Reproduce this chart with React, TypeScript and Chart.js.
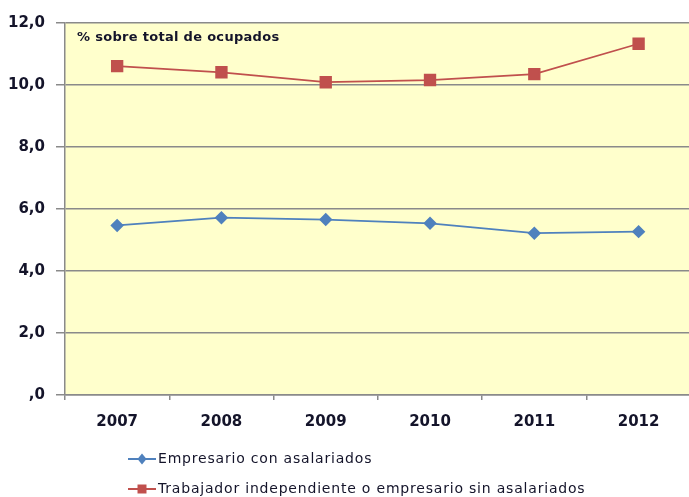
import React, { useEffect, useRef } from "react";
import { Chart, registerables } from "chart.js";

Chart.register(...registerables);

const years = ["2007", "2008", "2009", "2010", "2011", "2012"];
const empresarioConAsalariados = [5.47, 5.72, 5.66, 5.54, 5.22, 5.27];
const independienteSinAsalariados = [10.61, 10.41, 10.09, 10.16, 10.35, 11.33];
const seriesNames = [
  "Empresario con asalariados",
  "Trabajador independiente o empresario sin asalariados",
];
const annotationText = "% sobre total de ocupados";

const BLUE = "#4F81BD";
const RED = "#C0504D";
const GRID = "#8a8a8a";
const TEXT = "#14142a";

const plotBg = {
  id: "plotBg",
  beforeDraw(chart: any) {
    const { ctx, chartArea } = chart;
    ctx.save();
    ctx.fillStyle = "#FFFFCC";
    ctx.fillRect(chartArea.left, chartArea.top, chartArea.right - chartArea.left, chartArea.bottom - chartArea.top);
    ctx.restore();
  },
};

const annotation = {
  id: "annotation",
  afterDatasetsDraw(chart: any) {
    const { ctx, chartArea } = chart;
    ctx.save();
    ctx.font = "bold 13px 'DejaVu Sans'";
    (ctx as any).letterSpacing = "0.3px";
    ctx.fillStyle = TEXT;
    ctx.textBaseline = "middle";
    ctx.textAlign = "left";
    ctx.fillText(annotationText, chartArea.left + 12, chartArea.top + 15);
    ctx.restore();
  },
};

const customLegend = {
  id: "customLegend",
  afterDraw(chart: any) {
    const { ctx } = chart;
    const rows = [459, 489];
    chart.data.datasets.forEach((ds: any, i: number) => {
      const y = rows[i];
      ctx.save();
      ctx.strokeStyle = ds.borderColor;
      ctx.lineWidth = 2;
      ctx.beginPath();
      ctx.moveTo(128, y);
      ctx.lineTo(156, y);
      ctx.stroke();
      ctx.fillStyle = ds.pointBackgroundColor;
      ctx.beginPath();
      if (ds.pointStyle === "rect") {
        ctx.rect(142 - 4.5, y - 4.5, 9, 9);
      } else {
        ctx.moveTo(142, y - 5.5);
        ctx.lineTo(146.5, y);
        ctx.lineTo(142, y + 5.5);
        ctx.lineTo(137.5, y);
        ctx.closePath();
      }
      ctx.fill();
      ctx.font = "14px 'DejaVu Sans'";
      (ctx as any).letterSpacing = "0.8px";
      ctx.fillStyle = TEXT;
      ctx.textBaseline = "middle";
      ctx.textAlign = "left";
      ctx.fillText(ds.label, 158, y);
      ctx.restore();
    });
  },
};

export default function App() {
  const ref = useRef<HTMLCanvasElement>(null);
  useEffect(() => {
    if (!ref.current) return;
    const chart = new Chart(ref.current, {
      type: "line",
      data: {
        labels: years,
        datasets: [
          {
            label: seriesNames[0],
            data: empresarioConAsalariados,
            borderColor: BLUE,
            backgroundColor: BLUE,
            pointBackgroundColor: BLUE,
            pointBorderColor: BLUE,
            borderWidth: 1.75,
            pointStyle: "rectRot",
            pointRadius: 5.5,
            tension: 0,
          },
          {
            label: seriesNames[1],
            data: independienteSinAsalariados,
            borderColor: RED,
            backgroundColor: RED,
            pointBackgroundColor: RED,
            pointBorderColor: RED,
            borderWidth: 1.75,
            pointStyle: "rect",
            pointRadius: 7.5,
            tension: 0,
          },
        ],
      },
      options: {
        responsive: false,
        animation: false,
        layout: { padding: { top: 23, right: 4, bottom: 0, left: 0 } },
        plugins: {
          legend: { display: false },
          tooltip: { enabled: false },
        },
        scales: {
          x: {
            offset: true,
            grid: {
              offset: true,
              drawOnChartArea: false,
              drawTicks: true,
              tickLength: 5,
              color: GRID,
              lineWidth: 1.5,
            },
            border: { color: GRID, width: 1.5 },
            ticks: {
              color: TEXT,
              font: { family: "'DejaVu Sans'", weight: "bold", size: 15 },
              padding: 13,
            },
            afterFit(scale: any) {
              scale.height = 102;
            },
          },
          y: {
            min: 0,
            max: 12,
            ticks: {
              stepSize: 2,
              color: TEXT,
              padding: 11,
              font: { family: "'DejaVu Sans'", weight: "bold", size: 15 },
              callback: (v: any) => (v === 0 ? ",0" : Number(v).toFixed(1).replace(".", ",")),
            },
            grid: { color: GRID, lineWidth: 1.5, tickLength: 9 },
            border: { color: GRID, width: 1.5 },
            afterFit(scale: any) {
              scale.width = 65;
            },
          },
        },
      },
      plugins: [plotBg, annotation, customLegend],
    });
    return () => chart.destroy();
  }, []);
  return (
    <div style={{ position: "fixed", left: 0, top: 0, width: 689, height: 497, overflow: "hidden", background: "#fff" }}>
      <canvas ref={ref} width={700} height={497} style={{ display: "block" }} />
    </div>
  );
}
